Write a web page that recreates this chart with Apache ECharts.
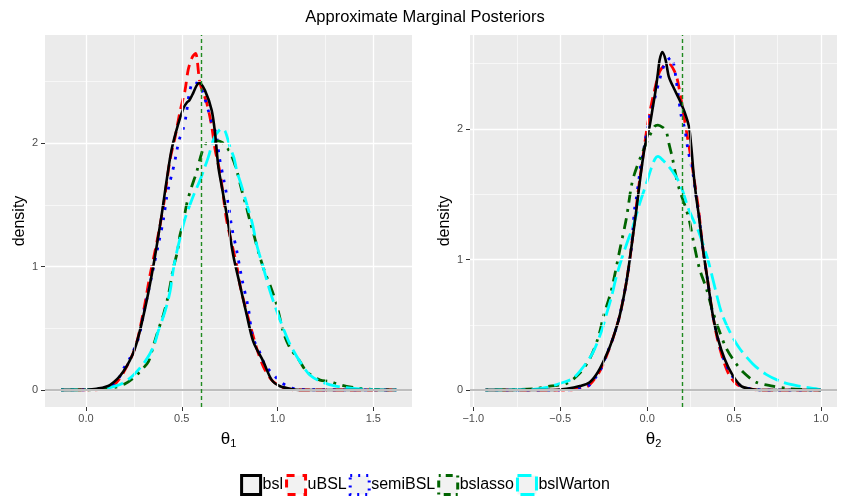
<!DOCTYPE html>
<html>
<head>
<meta charset="utf-8">
<script src="https://cdn.jsdelivr.net/npm/echarts@6/dist/echarts.min.js"></script>
<style>html,body{margin:0;padding:0;background:#fff}#c{width:850px;height:500px}</style>
</head>
<body>
<div id="c"></div>
<script>
// ---- data ----
const seriesNames = ['bsl', 'uBSL', 'semiBSL', 'bslasso', 'bslWarton'];
const seriesColors = ['#000000', '#ff0000', '#0000ff', '#006400', '#00ffff'];

// theta1 panel: [x, density]
const theta1Bsl = [[-0.13,0],[0.0,0.002],[0.056,0.01],[0.125,0.04],[0.195,0.15],[0.256,0.34],[0.308,0.66],[0.352,1.01],[0.395,1.42],[0.421,1.70],[0.447,1.95],[0.482,2.16],[0.51,2.29],[0.526,2.33],[0.54,2.35],[0.56,2.41],[0.578,2.47],[0.592,2.49],[0.621,2.43],[0.656,2.27],[0.674,2.08],[0.691,1.81],[0.709,1.65],[0.735,1.42],[0.769,1.09],[0.804,0.85],[0.839,0.61],[0.874,0.39],[0.926,0.23],[0.97,0.08],[1.013,0.03],[1.065,0.01],[1.12,0],[1.62,0]];
const theta1UBSL = [[-0.13,0],[0.05,0.002],[0.143,0.04],[0.195,0.14],[0.256,0.34],[0.299,0.63],[0.334,0.93],[0.37,1.2],[0.404,1.49],[0.421,1.68],[0.439,1.87],[0.465,2.05],[0.491,2.26],[0.517,2.43],[0.534,2.60],[0.555,2.70],[0.572,2.73],[0.595,2.49],[0.63,2.33],[0.656,2.14],[0.674,1.95],[0.700,1.76],[0.717,1.57],[0.735,1.37],[0.787,1.01],[0.804,0.85],[0.839,0.63],[0.891,0.34],[0.926,0.19],[0.97,0.08],[1.03,0.02],[1.1,0],[1.62,0]];
const theta1SemiBSL = [[-0.13,0],[0.05,0.003],[0.134,0.04],[0.169,0.09],[0.195,0.17],[0.23,0.26],[0.274,0.42],[0.3,0.61],[0.326,0.8],[0.352,0.99],[0.378,1.18],[0.404,1.38],[0.421,1.56],[0.434,1.66],[0.448,1.75],[0.462,1.84],[0.474,1.94],[0.487,2.03],[0.508,2.12],[0.522,2.22],[0.54,2.41],[0.561,2.50],[0.58,2.49],[0.6,2.45],[0.621,2.36],[0.638,2.27],[0.656,2.17],[0.679,2.08],[0.696,1.89],[0.72,1.70],[0.743,1.51],[0.761,1.32],[0.787,1.13],[0.813,0.91],[0.848,0.66],[0.865,0.47],[0.883,0.38],[0.909,0.30],[0.935,0.20],[0.97,0.14],[1.013,0.07],[1.065,0.02],[1.12,0.003],[1.62,0]];
const theta1Bslasso = [[-0.13,0],[0.1,0.005],[0.15,0.02],[0.204,0.05],[0.25,0.10],[0.282,0.15],[0.326,0.23],[0.352,0.36],[0.378,0.49],[0.404,0.61],[0.43,0.77],[0.456,0.99],[0.477,1.12],[0.49,1.25],[0.508,1.36],[0.526,1.51],[0.55,1.64],[0.578,1.77],[0.604,1.92],[0.63,2.0],[0.651,2.0],[0.68,2.02],[0.709,2.01],[0.735,1.97],[0.76,1.9],[0.787,1.78],[0.813,1.62],[0.835,1.5],[0.856,1.37],[0.878,1.25],[0.9,1.12],[0.935,0.95],[0.961,0.85],[0.996,0.69],[1.03,0.47],[1.065,0.34],[1.109,0.25],[1.152,0.15],[1.222,0.08],[1.27,0.07],[1.31,0.05],[1.36,0.03],[1.42,0.015],[1.5,0.005],[1.62,0]];
const theta1BslWarton = [[-0.13,0],[0.05,0.005],[0.125,0.02],[0.186,0.05],[0.247,0.12],[0.308,0.23],[0.352,0.35],[0.378,0.48],[0.413,0.64],[0.439,0.80],[0.456,0.98],[0.474,1.12],[0.491,1.23],[0.517,1.39],[0.552,1.54],[0.578,1.64],[0.595,1.70],[0.621,1.81],[0.639,1.89],[0.665,2.03],[0.682,2.08],[0.709,2.12],[0.726,2.10],[0.752,1.97],[0.773,1.88],[0.787,1.78],[0.813,1.65],[0.839,1.51],[0.87,1.34],[0.891,1.18],[0.926,0.99],[0.961,0.80],[0.996,0.64],[1.03,0.50],[1.065,0.37],[1.117,0.23],[1.17,0.12],[1.24,0.06],[1.31,0.03],[1.41,0.01],[1.5,0.003],[1.62,0]];

// theta2 panel: [x, density]
const theta2Bsl = [[-0.93,0],[-0.55,0],[-0.464,0.01],[-0.387,0.03],[-0.33,0.06],[-0.282,0.14],[-0.234,0.27],[-0.196,0.40],[-0.158,0.57],[-0.119,0.83],[-0.091,1.09],[-0.066,1.34],[-0.053,1.48],[-0.033,1.69],[-0.014,1.86],[0.014,2.02],[0.033,2.17],[0.049,2.30],[0.062,2.43],[0.072,2.53],[0.087,2.59],[0.106,2.53],[0.125,2.40],[0.158,2.30],[0.187,2.22],[0.215,2.13],[0.24,2.02],[0.254,1.86],[0.267,1.66],[0.282,1.48],[0.297,1.34],[0.32,1.09],[0.349,0.83],[0.378,0.57],[0.406,0.40],[0.445,0.24],[0.493,0.11],[0.541,0.03],[0.589,0.01],[0.65,0],[1.0,0]];
const theta2UBSL = [[-0.93,0],[-0.45,0],[-0.387,0.01],[-0.34,0.03],[-0.3,0.09],[-0.27,0.15],[-0.234,0.26],[-0.196,0.40],[-0.158,0.57],[-0.119,0.83],[-0.091,1.09],[-0.062,1.41],[-0.043,1.61],[-0.024,1.79],[-0.005,1.97],[0.014,2.12],[0.043,2.30],[0.072,2.44],[0.1,2.49],[0.125,2.50],[0.158,2.44],[0.175,2.37],[0.196,2.22],[0.215,2.07],[0.234,1.92],[0.254,1.76],[0.273,1.59],[0.296,1.38],[0.32,1.09],[0.349,0.83],[0.378,0.57],[0.406,0.38],[0.445,0.20],[0.474,0.11],[0.51,0.05],[0.55,0.02],[0.589,0.01],[0.65,0],[1.0,0]];
const theta2SemiBSL = [[-0.93,0],[-0.5,0],[-0.4,0.01],[-0.34,0.03],[-0.3,0.09],[-0.27,0.15],[-0.234,0.27],[-0.196,0.40],[-0.158,0.57],[-0.119,0.83],[-0.091,1.09],[-0.072,1.39],[-0.062,1.47],[-0.053,1.56],[-0.044,1.65],[-0.035,1.74],[-0.021,1.83],[-0.01,1.92],[0.004,2.01],[0.014,2.10],[0.036,2.19],[0.052,2.28],[0.068,2.36],[0.087,2.45],[0.106,2.51],[0.139,2.55],[0.158,2.46],[0.167,2.37],[0.177,2.28],[0.196,2.10],[0.215,2.01],[0.235,1.84],[0.263,1.66],[0.282,1.48],[0.297,1.34],[0.32,1.09],[0.349,0.83],[0.378,0.57],[0.406,0.40],[0.445,0.22],[0.493,0.10],[0.541,0.03],[0.6,0.01],[0.66,0],[1.0,0]];
const theta2Bslasso = [[-0.93,0],[-0.75,0.003],[-0.65,0.01],[-0.56,0.03],[-0.464,0.05],[-0.387,0.13],[-0.33,0.24],[-0.282,0.40],[-0.25,0.57],[-0.215,0.72],[-0.196,0.82],[-0.158,1.07],[-0.119,1.32],[-0.091,1.56],[-0.072,1.66],[-0.033,1.80],[0.005,1.92],[0.043,2.02],[0.062,2.03],[0.091,2.01],[0.11,1.98],[0.125,1.89],[0.145,1.78],[0.164,1.65],[0.187,1.53],[0.221,1.40],[0.244,1.29],[0.263,1.16],[0.301,0.93],[0.34,0.78],[0.378,0.60],[0.416,0.45],[0.455,0.32],[0.502,0.22],[0.55,0.14],[0.627,0.06],[0.722,0.03],[0.818,0.01],[0.91,0.003],[1.0,0]];
const theta2BslWarton = [[-0.93,0],[-0.75,0.002],[-0.655,0.005],[-0.579,0.02],[-0.502,0.05],[-0.426,0.09],[-0.36,0.19],[-0.311,0.29],[-0.263,0.45],[-0.23,0.6],[-0.206,0.71],[-0.177,0.87],[-0.148,1.00],[-0.11,1.15],[-0.082,1.25],[-0.043,1.43],[-0.005,1.58],[0.024,1.70],[0.045,1.77],[0.062,1.79],[0.091,1.76],[0.119,1.72],[0.148,1.67],[0.177,1.61],[0.206,1.52],[0.234,1.40],[0.263,1.31],[0.3,1.2],[0.349,1.0],[0.387,0.80],[0.426,0.60],[0.474,0.45],[0.531,0.32],[0.608,0.20],[0.684,0.12],[0.78,0.06],[0.875,0.03],[0.97,0.01],[1.0,0]];

// axes / reference values
const xTicks1 = [0, 0.5, 1.0, 1.5];
const xMinor1 = [0.25, 0.75, 1.25];
const xTicks2 = [-1.0, -0.5, 0.0, 0.5, 1.0];
const xMinor2 = [-0.75, -0.25, 0.25, 0.75];
const yTicks = [0, 1, 2];
const yMinor = [0.5, 1.5, 2.5];
const trueValues = [0.6, 0.2];
const xRange1 = [-0.214, 1.702];
const xRange2 = [-1.019, 1.092];
const yRange1 = [-0.138, 2.879];
const yRange2 = [-0.130, 2.720];

// ---- styles ----
const FONT = 'Liberation Sans, Arial, Helvetica, sans-serif';
const dashes = ['solid', [11, 6], [2.8, 7.5], [2.8, 6.5, 11, 6.5], [17, 6]];
const lineWidths = [2.6, 2.8, 2.8, 2.8, 2.8];
const legendDashes = ['solid', [8, 8], [2, 6], [2, 5, 7, 5], [14, 6]];

const panels = [
  [theta1Bsl, theta1UBSL, theta1SemiBSL, theta1Bslasso, theta1BslWarton],
  [theta2Bsl, theta2UBSL, theta2SemiBSL, theta2Bslasso, theta2BslWarton]
];

function fmtX(v) { return v.toFixed(1).replace('-', '\u2212'); }

function xAxis(idx, range, ticks, sub) {
  return {
    type: 'value', gridIndex: idx, min: range[0], max: range[1],
    axisLine: { show: false, onZero: false },
    splitLine: { show: false },
    axisTick: { show: true, customValues: ticks, length: 4, lineStyle: { color: '#333333', width: 1 } },
    axisLabel: { show: true, customValues: ticks, formatter: fmtX, color: '#4d4d4d', fontSize: 11, margin: 6, fontFamily: FONT },
    name: '{t|\u03b8}{s|' + sub + '}', nameLocation: 'middle', nameGap: 19,
    nameTextStyle: { fontFamily: FONT, color: '#000', rich: {
      t: { fontSize: 17, fontFamily: FONT, color: '#000', lineHeight: 22 },
      s: { fontSize: 11, fontFamily: FONT, color: '#000', lineHeight: 22, padding: [10, 0, 0, 0] }
    } }
  };
}
function yAxis(idx, range) {
  return {
    type: 'value', gridIndex: idx, min: range[0], max: range[1],
    axisLine: { show: false, onZero: false },
    splitLine: { show: false },
    axisTick: { show: true, customValues: yTicks, length: 4, lineStyle: { color: '#333333', width: 1 } },
    axisLabel: { show: true, customValues: yTicks, color: '#4d4d4d', fontSize: 11, margin: 7, fontFamily: FONT },
    name: 'density', nameLocation: 'middle', nameGap: 17, nameRotate: 90,
    nameTextStyle: { fontSize: 16, color: '#000', fontFamily: FONT }
  };
}

function gridSeries(idx, xMajor, xMin) {
  const maj = { color: '#ffffff', width: 1.3, type: 'solid' };
  const min = { color: '#ffffff', width: 0.6, type: 'solid' };
  const d = [];
  xMin.forEach(v => d.push({ xAxis: v, lineStyle: min }));
  yMinor.forEach(v => d.push({ yAxis: v, lineStyle: min }));
  xMajor.forEach(v => d.push({ xAxis: v, lineStyle: maj }));
  yTicks.forEach(v => d.push({ yAxis: v, lineStyle: maj }));
  d.push({ yAxis: 0, lineStyle: { color: '#bebebe', width: 2, type: 'solid' } });
  return {
    name: 'grid' + idx, type: 'line', xAxisIndex: idx, yAxisIndex: idx, data: [], z: 1,
    silent: true, animation: false,
    markLine: { silent: true, symbol: ['none', 'none'], label: { show: false }, animation: false, data: d }
  };
}
function vlineSeries(idx) {
  return {
    name: 'true' + idx, type: 'line', xAxisIndex: idx, yAxisIndex: idx, data: [], z: 6,
    silent: true, animation: false,
    markLine: { silent: true, symbol: ['none', 'none'], label: { show: false }, animation: false,
      data: [{ xAxis: trueValues[idx], lineStyle: { color: '#1f8a1f', width: 1.4, type: [4, 3] } }] }
  };
}

const series = [gridSeries(0, xTicks1, xMinor1), gridSeries(1, xTicks2, xMinor2)];
panels.forEach((p, pi) => {
  p.forEach((d, si) => {
    series.push({
      name: seriesNames[si], type: 'line', xAxisIndex: pi, yAxisIndex: pi,
      data: d, smooth: 0.3, showSymbol: false, symbol: 'none', z: 3 + (si === 0 ? 0.5 : 0),
      color: seriesColors[si], animation: false,
      lineStyle: { color: seriesColors[si], width: lineWidths[si], type: dashes[si], cap: 'butt', join: 'round' }
    });
  });
});
series.push(vlineSeries(0), vlineSeries(1));

const chart = echarts.init(document.getElementById('c'), null, { renderer: 'canvas' });
chart.setOption({
  backgroundColor: '#ffffff',
  animation: false,
  textStyle: { fontFamily: FONT },
  title: { text: 'Approximate Marginal Posteriors', left: 'center', top: 4,
    textStyle: { fontSize: 16.5, fontWeight: 'normal', color: '#000', fontFamily: FONT } },
  grid: [
    { left: 45, top: 35, width: 367, height: 372, show: true, backgroundColor: '#ebebeb', borderWidth: 0 },
    { left: 470, top: 35, width: 367, height: 372, show: true, backgroundColor: '#ebebeb', borderWidth: 0 }
  ],
  xAxis: [xAxis(0, xRange1, xTicks1, '1'), xAxis(1, xRange2, xTicks2, '2')],
  yAxis: [yAxis(0, yRange1), yAxis(1, yRange2)],
  legend: {
    top: 469, left: 'center', itemWidth: 19, itemHeight: 19, itemGap: 2, icon: 'rect',
    selectedMode: false,
    textStyle: { fontSize: 16, color: '#000', fontFamily: FONT, padding: [0, 0, 0, -3] },
    data: seriesNames.map((n, i) => ({
      name: n, icon: 'rect',
      itemStyle: { color: '#f2f2f2', borderColor: seriesColors[i], borderWidth: 3, borderType: legendDashes[i] }
    }))
  },
  series: series
});
</script>
</body>
</html>
